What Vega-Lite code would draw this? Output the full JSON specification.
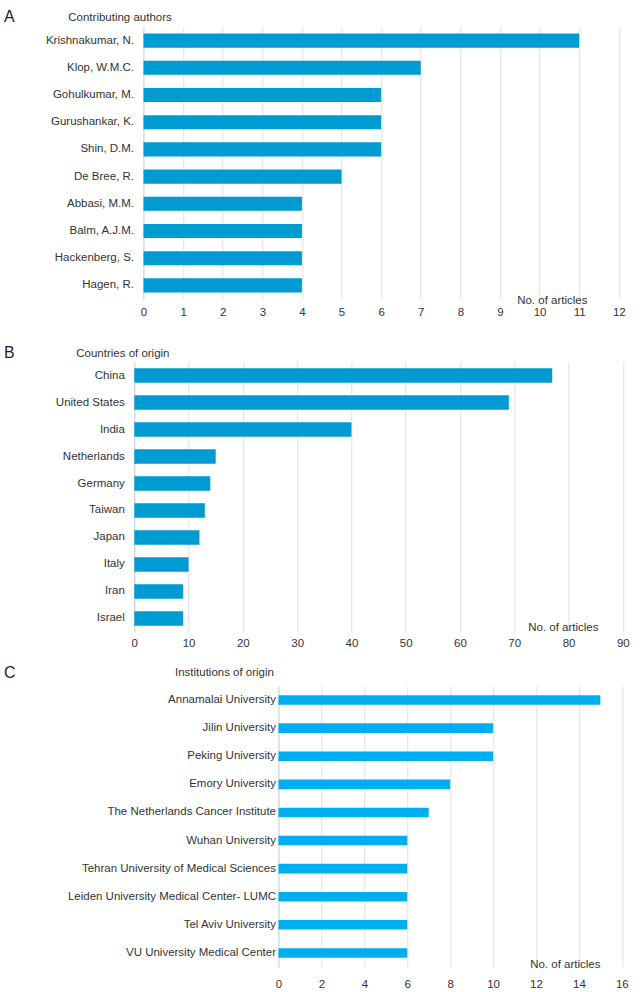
{
  "$schema": "https://vega.github.io/schema/vega-lite/v6.json",
  "padding": {"left": 3.3, "top": 9, "right": 0, "bottom": 0},
  "bounds": "full",
  "spacing": 15,
  "config": {
    "font": "Liberation Sans",
    "view": {"stroke": null},
    "axis": {"labelColor": "#333333", "titleColor": "#333333", "labelFontSize": 11.5, "titleFontSize": 11.5, "titleFontWeight": "normal", "labelLimit": 320},
    "title": {"fontSize": 16, "fontWeight": "normal", "color": "#222222", "anchor": "start", "frame": "group", "baseline": "middle", "lineHeight": 12}
  },
  "datasets": {
    "authors": [
      {"name": "Krishnakumar, N.", "articles": 11},
      {"name": "Klop, W.M.C.", "articles": 7},
      {"name": "Gohulkumar, M.", "articles": 6},
      {"name": "Gurushankar, K.", "articles": 6},
      {"name": "Shin, D.M.", "articles": 6},
      {"name": "De Bree, R.", "articles": 5},
      {"name": "Abbasi, M.M.", "articles": 4},
      {"name": "Balm, A.J.M.", "articles": 4},
      {"name": "Hackenberg, S.", "articles": 4},
      {"name": "Hagen, R.", "articles": 4}
    ],
    "countries": [
      {"name": "China", "articles": 77},
      {"name": "United States", "articles": 69},
      {"name": "India", "articles": 40},
      {"name": "Netherlands", "articles": 15},
      {"name": "Germany", "articles": 14},
      {"name": "Taiwan", "articles": 13},
      {"name": "Japan", "articles": 12},
      {"name": "Italy", "articles": 10},
      {"name": "Iran", "articles": 9},
      {"name": "Israel", "articles": 9}
    ],
    "institutions": [
      {"name": "Annamalai University", "articles": 15},
      {"name": "Jilin University", "articles": 10},
      {"name": "Peking University", "articles": 10},
      {"name": "Emory University", "articles": 8},
      {"name": "The Netherlands Cancer Institute", "articles": 7},
      {"name": "Wuhan University", "articles": 6},
      {"name": "Tehran University of Medical Sciences", "articles": 6},
      {"name": "Leiden University Medical Center- LUMC", "articles": 6},
      {"name": "Tel Aviv University", "articles": 6},
      {"name": "VU University Medical Center", "articles": 6}
    ]
  },
  "vconcat": [
    {
      "data": {"name": "authors"},
      "title": {"text": "A", "dx": -130.2, "offset": -14.35},
      "width": 488.5,
      "height": 272,
      "mark": {"type": "bar", "color": "#009bd2"},
      "encoding": {
        "y": {
          "field": "name", "type": "nominal", "sort": null,
          "scale": {"paddingInner": 0.48, "paddingOuter": 0.24},
          "axis": {"title": "Contributing authors", "titleAngle": 0, "titleAlign": "left", "titleBaseline": "middle", "titleX": -75.7, "titleY": -10,
                   "offset": -9.2, "ticks": false, "labelPadding": 10, "domainColor": "#cbd9e6", "grid": false}
        },
        "x": {
          "field": "articles", "type": "quantitative",
          "scale": {"domain": [0, 12], "nice": false, "range": [9.2, 484.5]},
          "axis": {"title": "No. of articles", "titleX": 417.5, "titleY": 1, "titleBaseline": "middle", "titleAlign": "center",
                   "values": [0,1,2,3,4,5,6,7,8,9,10,11,12], "domain": false, "ticks": false, "labelPadding": 7.5,
                   "grid": true, "gridColor": "#e0e0e0", "labelFlush": false}
        }
      }
    },
    {
      "data": {"name": "countries"},
      "title": {"text": ["", "B"], "dx": -130.2, "offset": -13.75},
      "width": 488.5,
      "height": 270,
      "mark": {"type": "bar", "color": "#009bd2"},
      "encoding": {
        "y": {
          "field": "name", "type": "nominal", "sort": null,
          "scale": {"paddingInner": 0.47, "paddingOuter": 0.235},
          "axis": {"title": "Countries of origin", "titleAngle": 0, "titleAlign": "left", "titleBaseline": "middle", "titleX": -58.5, "titleY": -8.5,
                   "ticks": false, "labelPadding": 10, "domainColor": "#cbd9e6", "grid": false}
        },
        "x": {
          "field": "articles", "type": "quantitative",
          "scale": {"domain": [0, 90], "nice": false, "range": [0, 488.5]},
          "axis": {"title": "No. of articles", "titleX": 428.5, "titleY": -4.5, "titleBaseline": "middle", "titleAlign": "center",
                   "values": [0,10,20,30,40,50,60,70,80,90], "domain": false, "ticks": false, "labelPadding": 5.5,
                   "grid": true, "gridColor": "#e0e0e0", "labelFlush": false}
        }
      }
    },
    {
      "data": {"name": "institutions"},
      "title": {"text": "C", "dx": -130.2, "offset": -13.75},
      "width": 488.5,
      "height": 281,
      "mark": {"type": "bar", "color": "#00aeef"},
      "encoding": {
        "y": {
          "field": "name", "type": "nominal", "sort": null,
          "scale": {"paddingInner": 0.66, "paddingOuter": 0.33},
          "axis": {"title": "Institutions of origin", "titleAngle": 0, "titleAlign": "left", "titleBaseline": "middle", "titleX": -104, "titleY": -13,
                   "offset": -144.2, "ticks": false, "labelPadding": 3, "domainColor": "#cbd9e6", "grid": false}
        },
        "x": {
          "field": "articles", "type": "quantitative",
          "scale": {"domain": [0, 16], "nice": false, "range": [144.2, 487.5]},
          "axis": {"title": "No. of articles", "titleX": 430.5, "titleY": -2, "titleBaseline": "middle", "titleAlign": "center",
                   "values": [0,2,4,6,8,10,12,14,16], "domain": false, "ticks": false, "labelPadding": 11.5,
                   "grid": true, "gridColor": "#e0e0e0", "labelFlush": false}
        }
      }
    }
  ]
}
